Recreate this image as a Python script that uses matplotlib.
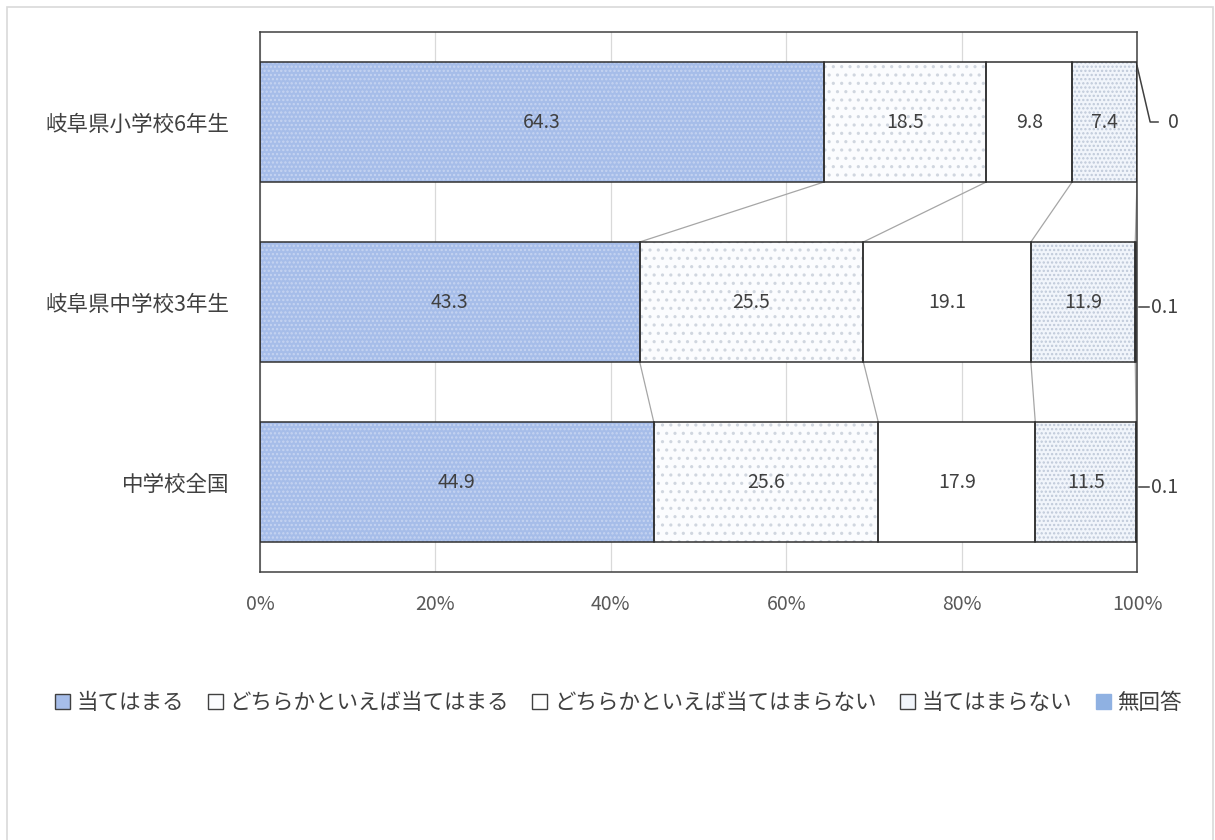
import matplotlib
matplotlib.use("Agg")
import matplotlib.pyplot as plt
from matplotlib.patches import Rectangle

plt.rcParams['font.family'] = ['Noto Sans CJK JP', 'DejaVu Sans']
plt.rcParams['hatch.linewidth'] = 1.1

# data
categories = ['岐阜県小学校6年生', '岐阜県中学校3年生', '中学校全国']
series_names = ['当てはまる', 'どちらかといえば当てはまる', 'どちらかといえば当てはまらない',
                '当てはまらない', '無回答']
values = [
    [64.3, 43.3, 44.9],
    [18.5, 25.5, 25.6],
    [9.8, 19.1, 17.9],
    [7.4, 11.9, 11.5],
    [0, 0.1, 0.1],
]
xtick_values = [0, 20, 40, 60, 80, 100]
xtick_labels = ['0%', '20%', '40%', '60%', '80%', '100%']

# styles: face, hatch, hatch colour
styles = [
    ('#a6bde9', '....', '#c6d4f1'),
    ('#fbfcfe', '..', '#d0d6df'),
    ('#ffffff', '', '#ffffff'),
    ('#f1f5fb', '....', '#bfc9d9'),
    ('#8fb1e2', '', '#8fb1e2'),
]

fig = plt.figure(figsize=(12.15, 8.4), dpi=100)
ax = fig.add_axes([260 / 1215, 1 - 572 / 840, 877 / 1215, 540 / 840])

# outer chart frame
fig.patches.append(Rectangle((7 / 1215, -0.05), 1206 / 1215, 1.05 - 7 / 840,
                             transform=fig.transFigure, fill=False,
                             edgecolor='#d9d9d9', linewidth=1.2))

ypos = list(range(len(categories)))
bar_h = 0.667
left = [0.0] * len(categories)
for i, vals in enumerate(values):
    face, hatch, hcol = styles[i]
    ax.barh(ypos, vals, left=left, height=bar_h, color=face, hatch=hatch,
            edgecolor=hcol, linewidth=0, zorder=2)
    ax.barh(ypos, vals, left=left, height=bar_h, fill=False,
            edgecolor='#303030', linewidth=1.1, zorder=3, label=series_names[i])
    if i < 4:
        for j, v in enumerate(vals):
            ax.text(left[j] + v / 2, j, f'{v:.1f}', ha='center', va='center',
                    fontsize=14, color='#404040', zorder=4)
    left = [l + v for l, v in zip(left, vals)]

# series lines between bars
for i in range(4):
    cum = [sum(values[k][j] for k in range(i + 1)) for j in range(len(categories))]
    for j in range(len(categories) - 1):
        ax.plot([cum[j], cum[j + 1]], [j + bar_h / 2, j + 1 - bar_h / 2],
                color='#a6a6a6', linewidth=0.9, zorder=1)

# labels for 無回答 outside the bars
for j, v in enumerate(values[4]):
    lbl = f'{v:g}'
    if j == 0:
        ax.plot([100, 101.5, 102.4], [-bar_h / 2 + 0.02, 0.0, 0.0],
                color='#404040', linewidth=1.1, clip_on=False)
        ax.text(103.5, 0.0, lbl, ha='left', va='center', fontsize=14,
                color='#404040')
    else:
        ax.plot([100.2, 101.4], [j + 0.03, j + 0.03], color='#404040',
                linewidth=1.1, clip_on=False)
        ax.text(101.6, j + 0.03, lbl, ha='left', va='center', fontsize=14,
                color='#404040')

ax.set_xlim(0, 100)
ax.set_ylim(2.5, -0.5)
ax.set_yticks(ypos)
ax.set_yticklabels(categories, fontsize=15.5, color='#404040')
ax.set_xticks(xtick_values)
ax.set_xticklabels(xtick_labels, fontsize=14, color='#595959')
ax.tick_params(axis='both', length=0)
ax.tick_params(axis='y', pad=22)
ax.tick_params(axis='x', pad=16)
ax.grid(axis='x', color='#d9d9d9', linewidth=0.9, zorder=0)
ax.set_axisbelow(True)
for s in ax.spines.values():
    s.set_color('#404040')
    s.set_linewidth(1.1)

# legend with proxies
handles = []
for i in range(5):
    face, hatch, hcol = styles[i]
    ec = '#404040' if i < 4 else face
    handles.append(Rectangle((0, 0), 1, 1, facecolor=face, edgecolor=ec, linewidth=1))
fig.legend(handles, series_names, loc='center', bbox_to_anchor=(0.509, 1 - 703 / 840),
           ncol=5, frameon=False, fontsize=15.5, handlelength=0.7, handleheight=0.7,
           handletextpad=0.3, columnspacing=1.1, labelcolor='#404040')

fig.savefig('out.png', dpi=100)
